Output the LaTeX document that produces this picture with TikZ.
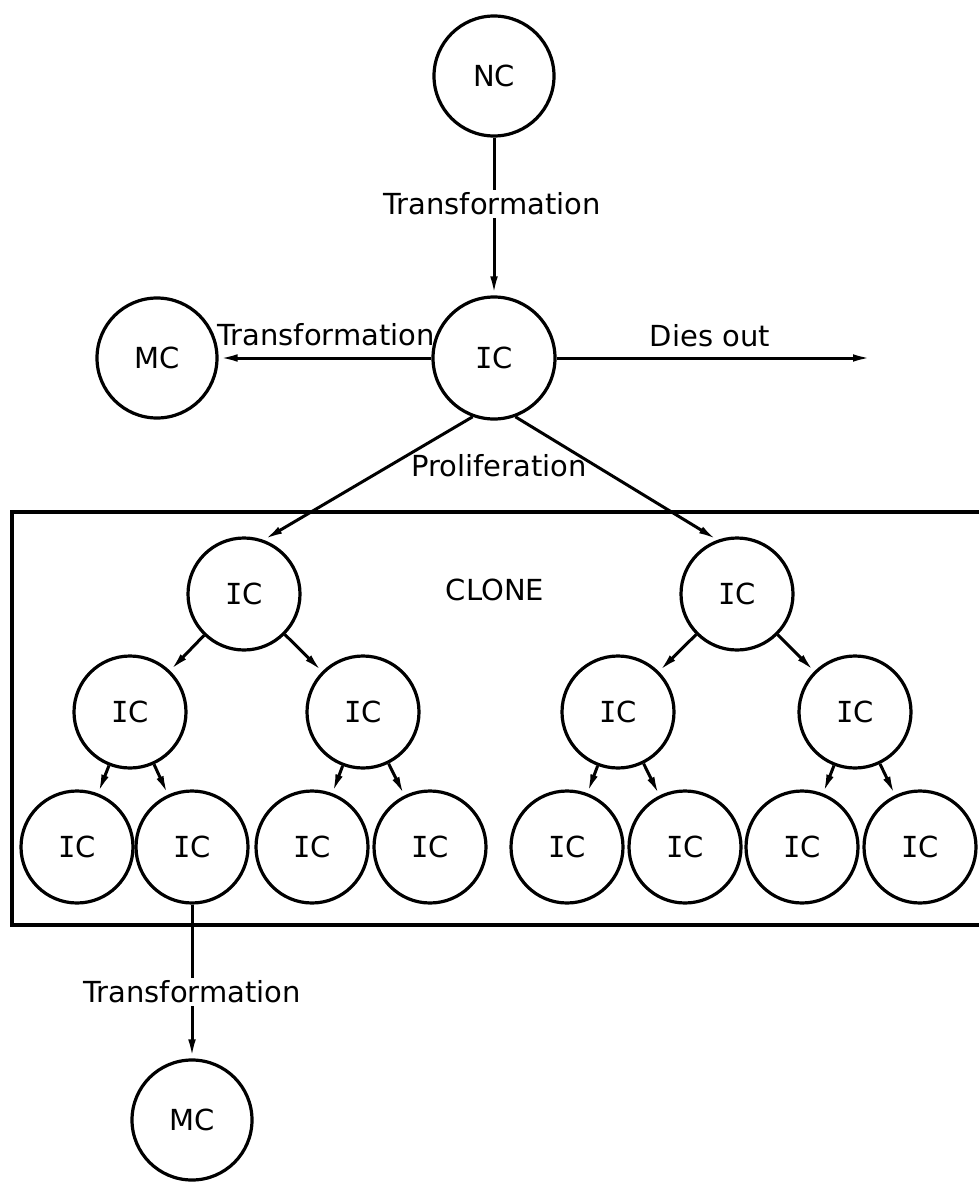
\documentclass[tikz,border=0pt]{standalone}
\usepackage{fontspec}
\setmainfont{DejaVu Sans}
\newfontfamily\monoI{DejaVu Sans Mono}
\usetikzlibrary{arrows.meta}
\newcommand{\icx}{{\monoI I}C}
\begin{document}
\begin{tikzpicture}[x=1pt,y=-1pt,
  every node/.style={font=\fontsize{29}{34}\selectfont},
  cell/.style={draw, circle, line width=3.2pt, minimum size=112pt, inner sep=0pt},
  bigcell/.style={cell, minimum size=120pt},
  conn/.style={line width=3pt, -{Latex[length=19pt,width=7.5pt]}},
  lbl/.style={inner sep=3pt},
  lblw/.style={lbl, fill=white}]
\useasboundingbox (0,0) rectangle (978,1182);
% clone box (right side runs off the picture)
\draw[line width=3.4pt] (982,512) -- (12,512) -- (12,925) -- (982,925);
% top part
\node[bigcell] (NC) at (494,76) {NC};
\node[bigcell, minimum size=122pt] (ICt) at (494,358) {\icx};
\node[bigcell] (MCl) at (157,358) {MC};
\coordinate (dies) at (872,358);
% level 1
\node[cell] (A) at (244,594) {\icx};
\node[cell] (B) at (737,594) {\icx};
% level 2
\node[cell] (A1) at (130,712) {\icx};
\node[cell] (A2) at (363,712) {\icx};
\node[cell] (B1) at (618,712) {\icx};
\node[cell] (B2) at (855,712) {\icx};
% level 3
\node[cell] (A11) at (77,847) {\icx};
\node[cell] (A12) at (192,847) {\icx};
\node[cell] (A21) at (312,847) {\icx};
\node[cell] (A22) at (430,847) {\icx};
\node[cell] (B11) at (567,847) {\icx};
\node[cell] (B12) at (685,847) {\icx};
\node[cell] (B21) at (802,847) {\icx};
\node[cell] (B22) at (920,847) {\icx};
% bottom MC
\node[bigcell] (MCb) at (192,1120) {MC};
% connectors
\draw[conn] (NC) -- (ICt);
\draw[conn] (ICt) -- (MCl);
\draw[conn] (ICt) -- (dies);
\draw[conn] (ICt.-110) -- (A.70);
\draw[conn] (ICt.-70) -- (B.110);
\draw[conn] (A) -- (A1);
\draw[conn] (A) -- (A2);
\draw[conn] (B) -- (B1);
\draw[conn] (B) -- (B2);
\draw[conn] (A1) -- (A11);
\draw[conn] (A1) -- (A12);
\draw[conn] (A2) -- (A21);
\draw[conn] (A2) -- (A22);
\draw[conn] (B1) -- (B11);
\draw[conn] (B1) -- (B12);
\draw[conn] (B2) -- (B21);
\draw[conn] (B2) -- (B22);
\draw[conn] (A12) -- (MCb);
% labels
\node[lblw] (t1) at (492,204) {Transformation};
\node[lbl] (t2) at (326,335) {Transformation};
\node[lbl] (t3) at (710,336) {Dies out};
\node[lbl] (t4) at (499,466) {Proliferation};
\node[lbl] (t5) at (495,590) {CLONE};
\node[lblw] (t6) at (192,992) {Transformation};
\end{tikzpicture}
\end{document}
